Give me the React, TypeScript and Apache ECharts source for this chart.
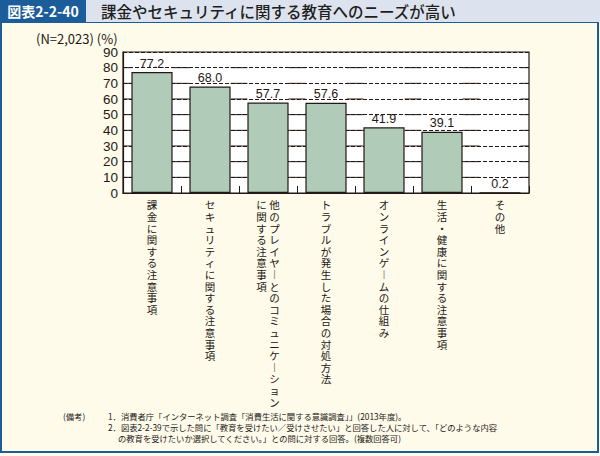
import React, { useEffect, useRef } from "react";
import * as echarts from "echarts";

const categories: string[] = [
  "課金に関する注意事項",
  "セキュリティに関する注意事項",
  "他のプレイヤーとのコミュニケーション\nに関する注意事項",
  "トラブルが発生した場合の対処方法",
  "オンラインゲームの仕組み",
  "生活・健康に関する注意事項",
  "その他",
];
const values: number[] = [77.2, 68.0, 57.7, 57.6, 41.9, 39.1, 0.2];
const yTicks: number[] = [0, 10, 20, 30, 40, 50, 60, 70, 80, 90];

const titleBox = "図表2-2-40";
const titleText = "課金やセキュリティに関する教育へのニーズが高い";
const unitText = "(N=2,023) (%)";
const notes: string[] = [
  "(備考)",
  "1．消費者庁「インターネット調査「消費生活に関する意識調査」」(2013年度)。",
  "2．図表2-2-39で示した問に「教育を受けたい／受けさせたい」と回答した人に対して、「どのような内容",
  "の教育を受けたいか選択してください。」との問に対する回答。(複数回答可)",
];

const INK = "#231815";
const BLUE = "#1b5c9b";
const BAR_RATIO = 0.71;
const JP = "'Noto Sans CJK JP', sans-serif";
const NUM = "'Liberation Sans', Arial, sans-serif";

function toVertical(label: string): string {
  const cols = label.split("\n").map((c) =>
    Array.from(c).map((ch) => (ch === "ー" ? "︱" : ch))
  );
  const n = Math.max(...cols.map((c) => c.length));
  const ordered = cols.slice().reverse();
  const rows: string[] = [];
  for (let r = 0; r < n; r++) {
    rows.push(ordered.map((c) => c[r] ?? "　").join(" "));
  }
  return rows.join("\n");
}

export default function App() {
  const ref = useRef<HTMLDivElement>(null);
  useEffect(() => {
    if (!ref.current) return;
    const chart = echarts.init(ref.current, undefined, { renderer: "svg" });
    const gridVals = yTicks.filter((v) => v > 0 && v < yTicks[yTicks.length - 1]);
    chart.setOption({
      animation: false,
      backgroundColor: "#fefbeb",
      grid: {
        left: 123,
        right: 71,
        top: 52,
        bottom: 263,
        show: true,
        backgroundColor: "#ffffff",
        borderColor: INK,
        borderWidth: 1.2,
      },
      xAxis: {
        type: "category",
        data: categories,
        boundaryGap: true,
        axisLine: { show: true, lineStyle: { color: INK, width: 1.2 } },
        axisTick: { show: true, inside: true, length: 7, lineStyle: { color: INK, width: 1 } },
        axisLabel: {
          interval: 0,
          margin: 6,
          color: INK,
          fontFamily: JP,
          fontSize: 10.5,
          lineHeight: 11.6,
          formatter: (v: string) => toVertical(v),
        },
      },
      yAxis: {
        type: "value",
        min: 0,
        max: 90,
        interval: 10,
        axisLine: { show: true, lineStyle: { color: INK, width: 1.2 } },
        axisTick: { show: false },
        axisLabel: { color: INK, fontFamily: NUM, fontSize: 13.5, margin: 5 },
        splitLine: { show: true, lineStyle: { color: INK, width: 1, type: [4, 2] } },
      },
      series: [
        {
          type: "custom",
          z: 1,
          silent: true,
          data: categories.map((_, i) => [i]),
          encode: { x: 0 },
          renderItem: (params: any, api: any) => {
            const i = api.value(0);
            const c = api.coord([i, 0]);
            const band = api.size([1, 0])[0];
            const bw = band * BAR_RATIO;
            const children: any[] = [];
            gridVals.forEach((v) => {
              const y = api.coord([i, v])[1];
              children.push({
                type: "line",
                shape: { x1: c[0] - band / 2, y1: y, x2: c[0] - bw / 2, y2: y },
                style: { stroke: INK, lineWidth: 1 },
              });
              children.push({
                type: "line",
                shape: { x1: c[0] + bw / 2, y1: y, x2: c[0] + band / 2, y2: y },
                style: { stroke: INK, lineWidth: 1 },
              });
            });
            return { type: "group", children };
          },
        },
        {
          type: "bar",
          z: 3,
          data: values,
          barWidth: BAR_RATIO * 100 + "%",
          itemStyle: { color: "#b0ccb9", borderColor: INK, borderWidth: 1.2 },
          label: {
            show: true,
            position: "top",
            distance: 2,
            color: INK,
            fontFamily: NUM,
            fontSize: 12.5,
            formatter: (p: any) => p.value.toFixed(1),
          },
        },
      ],
      graphic: [
        {
          type: "rect",
          z: 100,
          shape: { x: 1, y: 22, width: 597, height: 430 },
          style: { fill: "none", stroke: BLUE, lineWidth: 2 },
        },
        {
          type: "rect",
          z: 100,
          shape: { x: 0, y: 0, width: 600, height: 22 },
          style: { fill: "#dde3ee" },
        },
        {
          type: "rect",
          z: 101,
          shape: { x: 0, y: 0, width: 86, height: 22 },
          style: { fill: BLUE },
        },
        {
          type: "text",
          z: 102,
          x: 43,
          y: 11,
          style: {
            text: titleBox,
            fill: "#ffffff",
            font: `bold 14px ${JP}`,
            align: "center",
            verticalAlign: "middle",
          },
        },
        {
          type: "text",
          z: 102,
          x: 101,
          y: 11,
          style: {
            text: titleText,
            fill: "#1e1e1e",
            font: `500 15.5px ${JP}`,
            verticalAlign: "middle",
          },
        },
        {
          type: "text",
          z: 102,
          x: 36,
          y: 38,
          style: { text: unitText, fill: INK, font: `13px ${JP}`, verticalAlign: "middle" },
        },
        {
          type: "text",
          z: 102,
          x: 63,
          y: 416,
          style: { text: notes[0], fill: INK, font: `8.3px ${JP}`, verticalAlign: "middle" },
        },
        {
          type: "text",
          z: 102,
          x: 108,
          y: 416,
          style: { text: notes[1], fill: INK, font: `8.3px ${JP}`, verticalAlign: "middle" },
        },
        {
          type: "text",
          z: 102,
          x: 108,
          y: 427,
          style: { text: notes[2], fill: INK, font: `8.3px ${JP}`, verticalAlign: "middle" },
        },
        {
          type: "text",
          z: 102,
          x: 118,
          y: 437.5,
          style: { text: notes[3], fill: INK, font: `8.3px ${JP}`, verticalAlign: "middle" },
        },
      ],
    });
    return () => chart.dispose();
  }, []);
  return (
    <div
      ref={ref}
      style={{ position: "fixed", left: 0, top: 0, width: 600, height: 456 }}
    />
  );
}
